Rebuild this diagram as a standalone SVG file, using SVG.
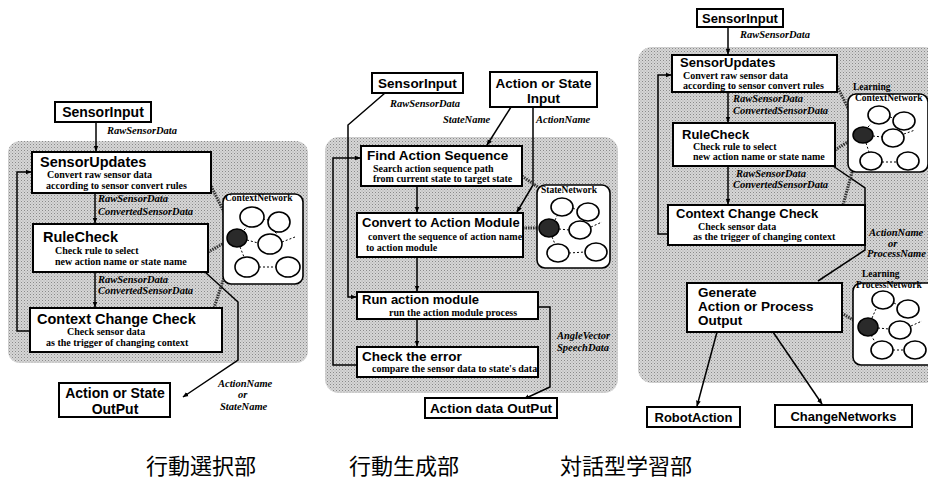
<svg xmlns="http://www.w3.org/2000/svg" width="928" height="483" viewBox="0 0 928 483">
<defs>
<marker id="ah" viewBox="0 0 10 10" refX="9" refY="5" markerWidth="6" markerHeight="6" orient="auto-start-reverse" markerUnits="userSpaceOnUse">
<path d="M0,1 L10,5 L0,9 z" fill="#000"/>
</marker>
<pattern id="dots" width="3" height="3" patternUnits="userSpaceOnUse">
<rect width="3" height="3" fill="#d6d6d6"/>
<rect x="0" y="0" width="1" height="1" fill="#8a8a8a"/>
<rect x="1.5" y="1.5" width="1" height="1" fill="#a8a8a8"/>
</pattern>
<style>
.bg{fill:url(#dots)}
.box{fill:#fff;stroke:#000;stroke-width:2}
.net{fill:#fff;stroke:#000;stroke-width:1.6}
.node{fill:#fff;stroke:#000;stroke-width:1.6}
.hot{fill:#2a2a2a;stroke:#000;stroke-width:1.5}
.ln{fill:none;stroke:#000;stroke-width:1.5}
.arr{marker-end:url(#ah)}
.hatch{fill:none;stroke:#333;stroke-width:3;stroke-dasharray:1.5 1}
.dash{fill:none;stroke:#000;stroke-width:1;stroke-dasharray:2 2}
.t1{font-family:"Liberation Sans",Arial,sans-serif;font-weight:bold;fill:#000}
.t2{font-family:"Liberation Serif","Times New Roman",serif;font-weight:bold;font-size:10px;fill:#000}
.lab{font-family:"Liberation Serif","Times New Roman",serif;font-weight:bold;font-style:italic;font-size:10.5px;fill:#000}
.nl{font-family:"Liberation Serif","Times New Roman",serif;font-weight:bold;font-size:9.5px;fill:#000}
.jp{font-family:"Noto Sans CJK JP","Noto Sans CJK SC",sans-serif;font-size:22px;fill:#000}
</style>
</defs>
<rect width="928" height="483" fill="#fff"/>

<!-- ===== Left panel: 行動選択部 ===== -->
<rect class="bg" x="8" y="141" width="300" height="222" rx="12"/>
<g id="connectors-left">
<line class="ln arr" x1="96" y1="122" x2="96" y2="151"/>
<line class="ln arr" x1="95" y1="193" x2="95" y2="223"/>
<line class="ln arr" x1="95" y1="272" x2="95" y2="307"/>
<polyline class="ln arr" points="30,331 17,331 17,172 31,172"/>
<polyline class="ln arr" points="205,272 238,302 238,360 183,397"/>
<line class="hatch" x1="210" y1="184" x2="234" y2="232"/>
<line class="hatch" x1="208" y1="252" x2="228" y2="241"/>
<line class="hatch" x1="214" y1="308" x2="234" y2="247"/>
</g>
<g id="l-sensorinput">
<rect class="box" x="55" y="102" width="96" height="20"/>
<text class="t1" x="103" y="117" font-size="14" text-anchor="middle">SensorInput</text>
</g>
<text class="lab" x="107" y="134">RawSensorData</text>
<g id="l-sensorupdates">
<rect class="box" x="32" y="152" width="179" height="41"/>
<text class="t1" x="40" y="167" font-size="14.5">SensorUpdates</text>
<text class="t2" x="47" y="178">Convert raw sensor data</text>
<text class="t2" x="46" y="189">according to sensor convert rules</text>
</g>
<text class="lab" x="98" y="202">RawSensorData</text>
<text class="lab" x="98" y="215">ConvertedSensorData</text>
<g id="l-rulecheck">
<rect class="box" x="33" y="224" width="175" height="48"/>
<text class="t1" x="43" y="242" font-size="14.5">RuleCheck</text>
<text class="t2" x="55" y="254">Check rule to select</text>
<text class="t2" x="55" y="265">new action name or state name</text>
</g>
<text class="lab" x="98" y="283">RawSensorData</text>
<text class="lab" x="98" y="294">ConvertedSensorData</text>
<g id="l-contextcheck">
<rect class="box" x="30" y="308" width="192" height="44"/>
<text class="t1" x="37" y="324" font-size="14.5">Context Change Check</text>
<text class="t2" x="67" y="335">Check sensor data</text>
<text class="t2" x="46" y="346">as the trigger of changing context</text>
</g>
<g id="l-contextnetwork">
<rect class="net" x="223" y="194" width="80" height="90" rx="8"/>
<text class="nl" x="225" y="201">ContextNetwork</text>
<line class="dash" x1="263" y1="219" x2="268" y2="220"/>
<line class="dash" x1="244" y1="230" x2="248" y2="226"/>
<line class="dash" x1="247" y1="240" x2="258" y2="243"/>
<line class="dash" x1="282" y1="242" x2="295" y2="237"/>
<line class="dash" x1="275" y1="232" x2="277" y2="234"/>
<line class="dash" x1="240" y1="247" x2="244" y2="257"/>
<line class="dash" x1="259" y1="267" x2="276" y2="267"/>
<ellipse class="node" cx="252" cy="217" rx="12" ry="10"/>
<ellipse class="node" cx="279" cy="222" rx="11" ry="10"/>
<ellipse class="hot" cx="237" cy="238" rx="10" ry="9"/>
<ellipse class="node" cx="270" cy="244" rx="12" ry="10"/>
<ellipse class="node" cx="247" cy="267" rx="12" ry="10"/>
<ellipse class="node" cx="288" cy="267" rx="12" ry="10"/>
</g>
<g id="l-output">
<rect class="box" x="59" y="383" width="111" height="34"/>
<text class="t1" x="115" y="398" font-size="14" text-anchor="middle">Action or State</text>
<text class="t1" x="115" y="414" font-size="14" text-anchor="middle">OutPut</text>
</g>
<text class="lab" x="218" y="387">ActionName</text>
<text class="lab" x="238" y="398">or</text>
<text class="lab" x="220" y="410">StateName</text>

<!-- ===== Middle panel: 行動生成部 ===== -->
<rect class="bg" x="325" y="137" width="293" height="256" rx="14"/>
<g id="connectors-mid">
<polyline class="ln arr" points="385,93 348,125 348,297 356,297"/>
<line class="ln arr" x1="511" y1="107" x2="487" y2="145"/>
<polyline class="ln arr" points="533,107 533,185 517,212"/>
<line class="ln arr" x1="417" y1="186" x2="417" y2="212"/>
<line class="ln arr" x1="417" y1="257" x2="417" y2="291"/>
<line class="ln arr" x1="417" y1="319" x2="417" y2="346"/>
<polyline class="ln arr" points="357,365 333,365 333,158 360,158"/>
<polyline class="ln arr" points="538,307 550,307 550,387 524,399"/>
<line class="hatch" x1="522" y1="176" x2="542" y2="190"/>
<line class="hatch" x1="523" y1="228" x2="539" y2="228"/>
</g>
<g id="m-sensorinput">
<rect class="box" x="372" y="73" width="91" height="20"/>
<text class="t1" x="417.5" y="88" font-size="13.5" text-anchor="middle">SensorInput</text>
</g>
<g id="m-actioninput">
<rect class="box" x="490" y="72" width="107" height="35"/>
<text class="t1" x="543.5" y="88" font-size="13.5" text-anchor="middle">Action or State</text>
<text class="t1" x="543.5" y="103" font-size="13.5" text-anchor="middle">Input</text>
</g>
<text class="lab" x="390" y="107">RawSensorData</text>
<text class="lab" x="443" y="123">StateName</text>
<text class="lab" x="536" y="123">ActionName</text>
<g id="m-find">
<rect class="box" x="361" y="146" width="161" height="40"/>
<text class="t1" x="367" y="160" font-size="13.5">Find Action Sequence</text>
<text class="t2" x="373" y="172" font-size="9.5">Search action sequence path</text>
<text class="t2" x="373" y="182" font-size="9.5">from current state to target state</text>
</g>
<g id="m-convert">
<rect class="box" x="357" y="213" width="166" height="44"/>
<text class="t1" x="362" y="227" font-size="13">Convert to Action Module</text>
<text class="t2" x="368" y="240" font-size="9.5">convert the sequence of action name</text>
<text class="t2" x="366" y="251" font-size="9.5">to action module</text>
</g>
<g id="m-run">
<rect class="box" x="357" y="292" width="181" height="27"/>
<text class="t1" x="362" y="303.5" font-size="13">Run action module</text>
<text class="t2" x="389" y="316" font-size="9">run the action module process</text>
</g>
<g id="m-check">
<rect class="box" x="357" y="347" width="181" height="30"/>
<text class="t1" x="362" y="361" font-size="13.5">Check the error</text>
<text class="t2" x="372" y="372" font-size="9">compare the sensor data to state's data</text>
</g>
<text class="lab" x="557" y="339">AngleVector</text>
<text class="lab" x="557" y="351">SpeechData</text>
<g id="m-output">
<rect class="box" x="425" y="398" width="132" height="20"/>
<text class="t1" x="491" y="413" font-size="13.5" text-anchor="middle">Action data OutPut</text>
</g>
<g id="m-statenetwork">
<rect class="net" x="537" y="185" width="73" height="83" rx="8"/>
<text class="nl" x="541" y="193">StateNetwork</text>
<line class="dash" x1="573" y1="208" x2="577" y2="210"/>
<line class="dash" x1="555" y1="220" x2="557" y2="216"/>
<line class="dash" x1="559" y1="229" x2="569" y2="230"/>
<line class="dash" x1="591" y1="227" x2="602" y2="222"/>
<line class="dash" x1="552" y1="237" x2="555" y2="244"/>
<line class="dash" x1="569" y1="253" x2="585" y2="252"/>
<ellipse class="node" cx="562" cy="207" rx="11" ry="9"/>
<ellipse class="node" cx="588" cy="212" rx="11" ry="9"/>
<ellipse class="hot" cx="549" cy="228" rx="10" ry="9"/>
<ellipse class="node" cx="580" cy="230" rx="11" ry="9"/>
<ellipse class="node" cx="558" cy="253" rx="11" ry="9"/>
<ellipse class="node" cx="596" cy="252" rx="11" ry="9"/>
</g>

<!-- ===== Right panel: 対話型学習部 ===== -->
<rect class="bg" x="638" y="47" width="300" height="336" rx="14"/>
<g id="connectors-right">
<line class="ln arr" x1="728" y1="27" x2="728" y2="54"/>
<line class="ln arr" x1="728" y1="92" x2="728" y2="122"/>
<line class="ln arr" x1="728" y1="166" x2="728" y2="204"/>
<polyline class="ln arr" points="668,234 658,234 658,75 671,75"/>
<polyline class="ln" points="833,166 865,188 865,250 818,281"/>
<line class="hatch" x1="837" y1="86" x2="858" y2="128"/>
<line class="hatch" x1="835" y1="150" x2="854" y2="138"/>
<line class="hatch" x1="860" y1="143" x2="843" y2="205"/>
<line class="hatch" x1="833" y1="308" x2="860" y2="324"/>
<line class="ln arr" x1="717" y1="332" x2="697" y2="406"/>
<line class="ln arr" x1="773" y1="332" x2="822" y2="404"/>
</g>
<g id="r-sensorinput">
<rect class="box" x="697" y="9" width="86" height="18"/>
<text class="t1" x="740" y="23" font-size="13" text-anchor="middle">SensorInput</text>
</g>
<text class="lab" x="740" y="38" font-size="9.5">RawSensorData</text>
<g id="r-sensorupdates">
<rect class="box" x="672" y="55" width="165" height="37"/>
<text class="t1" x="680" y="67" font-size="13">SensorUpdates</text>
<text class="t2" x="683" y="79" font-size="9.5">Convert raw sensor data</text>
<text class="t2" x="683" y="89" font-size="9.5">according to sensor convert rules</text>
</g>
<text class="lab" x="733" y="102" font-size="9.5">RawSensorData</text>
<text class="lab" x="733" y="114" font-size="9.5">ConvertedSensorData</text>
<g id="r-rulecheck">
<rect class="box" x="673" y="123" width="162" height="43"/>
<text class="t1" x="682" y="139" font-size="13">RuleCheck</text>
<text class="t2" x="693" y="150" font-size="9.5">Check rule to select</text>
<text class="t2" x="693" y="160" font-size="9.5">new action name or state name</text>
</g>
<text class="lab" x="736" y="177" font-size="9.5">RawSensorData</text>
<text class="lab" x="733" y="188" font-size="9.5">ConvertedSensorData</text>
<g id="r-contextcheck">
<rect class="box" x="668" y="205" width="197" height="40"/>
<text class="t1" x="676" y="218" font-size="13">Context Change Check</text>
<text class="t2" x="698" y="230" font-size="9.5">Check sensor data</text>
<text class="t2" x="693" y="240" font-size="9.5">as the trigger of changing context</text>
</g>
<g id="r-contextnetwork">
<rect class="net" x="848" y="94" width="80" height="78" rx="8"/>
<text class="nl" x="853" y="90">Learning</text>
<text class="nl" x="855" y="101">ContextNetwork</text>
<line class="dash" x1="890" y1="117" x2="893" y2="118"/>
<line class="dash" x1="868" y1="127" x2="871" y2="124"/>
<line class="dash" x1="873" y1="136" x2="882" y2="137"/>
<line class="dash" x1="904" y1="134" x2="915" y2="130"/>
<line class="dash" x1="866" y1="143" x2="869" y2="152"/>
<line class="dash" x1="882" y1="162" x2="897" y2="162"/>
<ellipse class="node" cx="879" cy="115" rx="11" ry="9"/>
<ellipse class="node" cx="904" cy="121" rx="11" ry="9"/>
<ellipse class="hot" cx="863" cy="135" rx="10" ry="8"/>
<ellipse class="node" cx="893" cy="138" rx="11" ry="9"/>
<ellipse class="node" cx="871" cy="161" rx="11" ry="9"/>
<ellipse class="node" cx="908" cy="161" rx="11" ry="9"/>
</g>
<text class="lab" x="869" y="236" font-size="9">ActionName</text>
<text class="lab" x="888" y="246.5" font-size="9">or</text>
<text class="lab" x="867" y="257" font-size="9">ProcessName</text>
<g id="r-generate">
<rect class="box" x="687" y="283" width="155" height="49"/>
<text class="t1" x="698" y="297" font-size="13.5">Generate</text>
<text class="t1" x="698" y="311" font-size="13.5">Action or Process</text>
<text class="t1" x="698" y="325" font-size="13.5">Output</text>
</g>
<g id="r-processnetwork">
<rect class="net" x="853" y="283" width="82" height="82" rx="8"/>
<text class="nl" x="862" y="277">Learning</text>
<text class="nl" x="856" y="288">ProcessNetwork</text>
<line class="dash" x1="894" y1="303" x2="898" y2="305"/>
<line class="dash" x1="872" y1="318" x2="876" y2="309"/>
<line class="dash" x1="878" y1="328" x2="889" y2="329"/>
<line class="dash" x1="911" y1="326" x2="922" y2="321"/>
<line class="dash" x1="871" y1="335" x2="875" y2="342"/>
<line class="dash" x1="893" y1="350" x2="904" y2="350"/>
<ellipse class="node" cx="883" cy="300" rx="11" ry="9"/>
<ellipse class="node" cx="908" cy="309" rx="11" ry="9"/>
<ellipse class="hot" cx="868" cy="327" rx="10" ry="9"/>
<ellipse class="node" cx="900" cy="330" rx="11" ry="9"/>
<ellipse class="node" cx="882" cy="350" rx="11" ry="9"/>
<ellipse class="node" cx="915" cy="350" rx="11" ry="9"/>
</g>
<g id="r-robotaction">
<rect class="box" x="647" y="407" width="93" height="20"/>
<text class="t1" x="693.5" y="422" font-size="13" text-anchor="middle">RobotAction</text>
</g>
<g id="r-changenetworks">
<rect class="box" x="775" y="405" width="137" height="22"/>
<text class="t1" x="843.5" y="421" font-size="13" text-anchor="middle">ChangeNetworks</text>
</g>

<!-- captions -->
<text class="jp" x="146" y="474">行動選択部</text>
<text class="jp" x="349" y="474">行動生成部</text>
<text class="jp" x="560" y="474">対話型学習部</text>
</svg>
